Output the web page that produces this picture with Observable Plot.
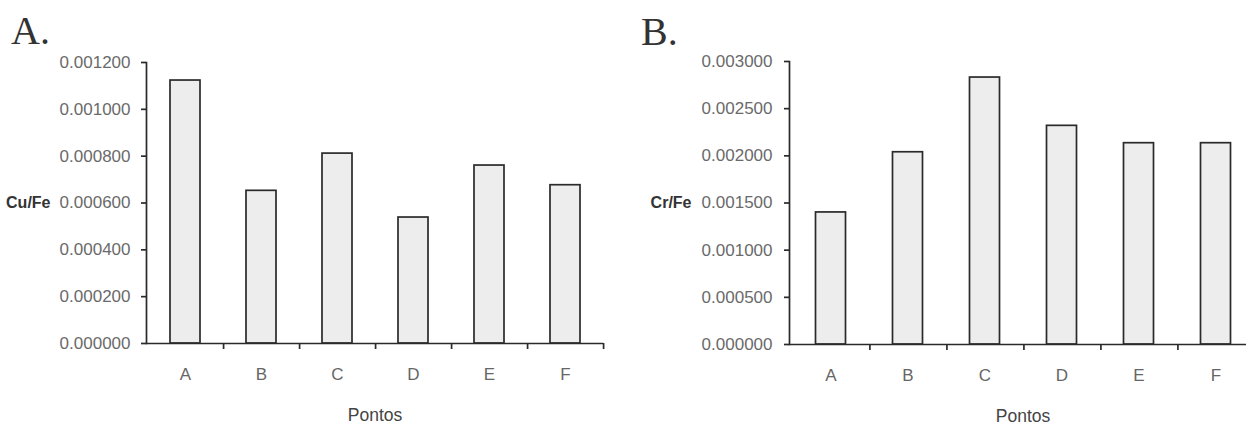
<!DOCTYPE html>
<html>
<head>
<meta charset="utf-8">
<script src="https://cdn.jsdelivr.net/npm/d3@7"></script>
<script src="https://cdn.jsdelivr.net/npm/@observablehq/plot@0.6"></script>
<style>
  html, body { margin: 0; padding: 0; background: #ffffff; }
  #wrap { position: relative; width: 1246px; height: 425px; overflow: hidden; background: #ffffff; }
  .panel { position: absolute; top: 0; }
  .panel svg { max-width: none !important; display: block; }
  .ttl { position: absolute; font-family: "Liberation Serif", "Times New Roman", serif; font-size: 40px; line-height: 1; color: #333; }
</style>
</head>
<body>
<div id="wrap">
  <div class="ttl" style="left:11px; top:11px;">A.</div>
  <div class="ttl" style="left:641px; top:12px;">B.</div>
  <div id="pa" class="panel" style="left:0px; width:620px;"></div>
  <div id="pb" class="panel" style="left:620px; width:660px;"></div>
</div>
<script>
const categories = ["A", "B", "C", "D", "E", "F"];
const cuFe = [0.001123, 0.000652, 0.000811, 0.000538, 0.000760, 0.000676];
const crFe = [0.001400, 0.002038, 0.002830, 0.002318, 0.002134, 0.002134];
const cuTicks = [0, 0.0002, 0.0004, 0.0006, 0.0008, 0.0010, 0.0012];
const crTicks = [0, 0.0005, 0.0010, 0.0015, 0.0020, 0.0025, 0.0030];
const xLabel = "Pontos";
const cuLabel = "Cu/Fe";
const crLabel = "Cr/Fe";

const fmt = d3.format(".6f");
const ink = "#2a2a2a";

function chart(o) {
  const data = categories.map((c, i) => ({c, v: o.values[i]}));
  const bw = (o.width - o.marginLeft - o.marginRight) / categories.length;
  return Plot.plot({
    width: o.width, height: 425,
    marginLeft: o.marginLeft, marginRight: o.marginRight,
    marginTop: o.marginTop, marginBottom: o.marginBottom,
    style: {fontFamily: "'Liberation Sans', Arial, sans-serif", fontSize: "17px", background: "transparent", overflow: "visible", maxWidth: "none"},
    x: {domain: categories, padding: 0},
    y: {domain: [0, o.ticks[o.ticks.length - 1]]},
    marks: [
      Plot.barY(data, {x: "c", y: "v", fill: "#ededed", stroke: ink, strokeWidth: 1.7, insetLeft: o.inset, insetRight: o.inset}),
      Plot.frame({anchor: "left", stroke: ink, strokeWidth: 1.7}),
      Plot.ruleY([0], {stroke: ink, strokeWidth: 1.7}),
      Plot.ruleX(categories, {x: d => d, y1: 0, y2: 0, insetTop: 0, insetBottom: -6, dx: bw / 2, stroke: ink, strokeWidth: 1.7}),
      Plot.axisY({ticks: o.ticks, tickSize: 5, tickFormat: () => "", stroke: ink, strokeWidth: 1.7, label: null}),
      Plot.axisY({ticks: o.ticks, tickSize: 0, tickPadding: o.yPad, tickFormat: fmt, fill: "#6a6a6a", label: null}),
      Plot.axisX({tickSize: 0, tickPadding: 24, fill: "#666", label: null}),
      Plot.text([o.yLabel], {text: d => d, frameAnchor: "left", textAnchor: "end", dx: o.yLabelDx, fill: "#333", fontSize: 16, fontWeight: 600}),
      Plot.text([xLabel], {text: d => d, frameAnchor: "bottom", lineAnchor: "middle", dy: 72, fill: "#444", fontSize: 17.5})
    ]
  });
}

document.getElementById("pa").appendChild(chart({
  values: cuFe, ticks: cuTicks, yLabel: cuLabel,
  width: 620, marginLeft: 146, marginRight: 17, marginTop: 62, marginBottom: 82,
  inset: 23, yPad: 16, yLabelDx: -96
}));
document.getElementById("pb").appendChild(chart({
  values: crFe, ticks: crTicks, yLabel: crLabel,
  width: 660, marginLeft: 169, marginRight: 24, marginTop: 61, marginBottom: 81,
  inset: 23.5, yPad: 17, yLabelDx: -98
}));
</script>
</body>
</html>
